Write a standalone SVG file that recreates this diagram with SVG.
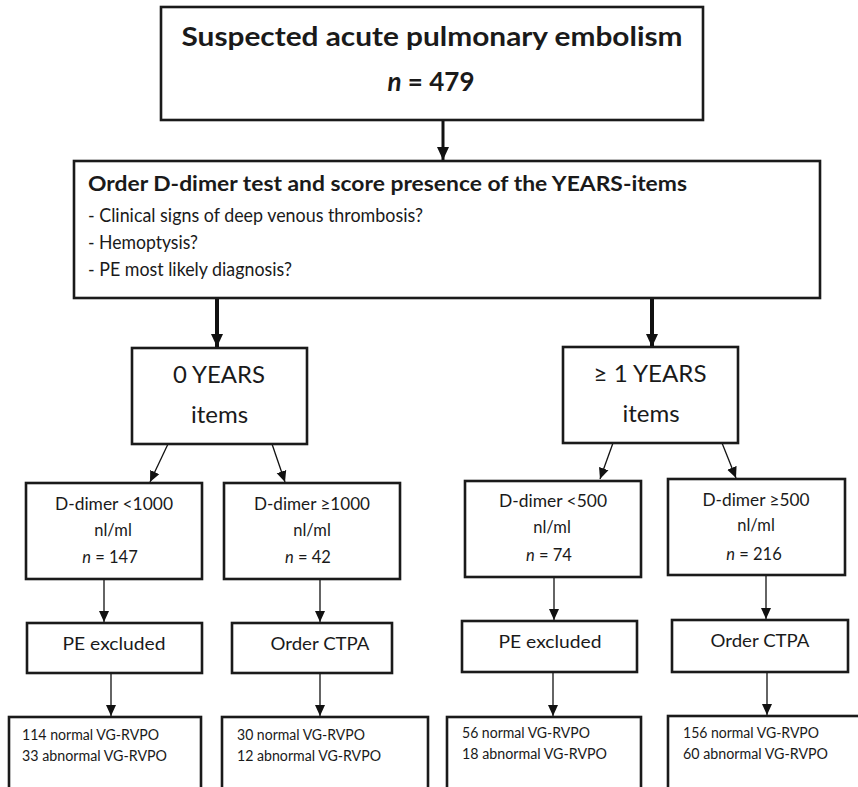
<svg xmlns="http://www.w3.org/2000/svg" width="858" height="787" viewBox="0 0 858 787">
<defs>
<marker id="ahBig" markerUnits="userSpaceOnUse" markerWidth="14" markerHeight="14" refX="13" refY="7" orient="auto"><path d="M0,1 L13,7 L0,13 z" fill="#111"/></marker>
<marker id="ahSmall" markerUnits="userSpaceOnUse" markerWidth="12" markerHeight="12" refX="11" refY="6" orient="auto"><path d="M0,1 L11,6 L0,11 z" fill="#111"/></marker>
<style>
.box{fill:#fff;stroke:#1a1a1a;stroke-width:2.6}
text{font-family:Lato,"Open Sans","Liberation Sans",sans-serif;fill:#1a1a1a}
.title{font-size:26px;font-weight:bold}
.h2{font-size:20px;font-weight:bold}
.bul{font-size:18.5px}
.yr{font-size:24px}
.dd{font-size:16.5px}
.act{font-size:18px}
.res{font-size:14.5px}
.thick{stroke:#111;stroke-width:4;fill:none}
.mid{stroke:#111;stroke-width:3;fill:none}
.thin{stroke:#111;stroke-width:1.3;fill:none}
</style>
</defs>
<rect width="858" height="787" fill="#fff"/>

<g id="connectors">
<line class="mid" x1="443" y1="121" x2="443" y2="160" marker-end="url(#ahBig)"/>
<line class="thick" x1="217" y1="298" x2="217" y2="347" marker-end="url(#ahBig)"/>
<line class="thick" x1="652" y1="298" x2="652" y2="347" marker-end="url(#ahBig)"/>
<line class="thin" x1="168" y1="444" x2="150" y2="482" marker-end="url(#ahSmall)"/>
<line class="thin" x1="272" y1="444" x2="285" y2="482" marker-end="url(#ahSmall)"/>
<line class="thin" x1="613" y1="443" x2="600" y2="479" marker-end="url(#ahSmall)"/>
<line class="thin" x1="722" y1="443" x2="736" y2="478" marker-end="url(#ahSmall)"/>
<line class="thin" x1="104" y1="579" x2="104" y2="622" marker-end="url(#ahSmall)"/>
<line class="thin" x1="320" y1="579" x2="320" y2="622" marker-end="url(#ahSmall)"/>
<line class="thin" x1="554" y1="577" x2="554" y2="620" marker-end="url(#ahSmall)"/>
<line class="thin" x1="766" y1="575" x2="766" y2="619" marker-end="url(#ahSmall)"/>
<line class="thin" x1="111" y1="673" x2="111" y2="716" marker-end="url(#ahSmall)"/>
<line class="thin" x1="320" y1="673" x2="320" y2="716" marker-end="url(#ahSmall)"/>
<line class="thin" x1="553" y1="672" x2="553" y2="716" marker-end="url(#ahSmall)"/>
<line class="thin" x1="767" y1="672" x2="767" y2="715" marker-end="url(#ahSmall)"/>
</g>

<g id="suspected">
<rect class="box" x="161" y="7" width="542" height="113"/>
<text class="title" x="432" y="46" text-anchor="middle" textLength="501" lengthAdjust="spacingAndGlyphs">Suspected acute pulmonary embolism</text>
<text class="title" x="431" y="91" text-anchor="middle"><tspan font-style="italic">n</tspan> = 479</text>
</g>

<g id="order-ddimer">
<rect class="box" x="74" y="161" width="746" height="137"/>
<text class="h2" x="88" y="191" textLength="599" lengthAdjust="spacingAndGlyphs">Order D-dimer test and score presence of the YEARS-items</text>
<text class="bul" x="88" y="222" textLength="335" lengthAdjust="spacingAndGlyphs">- Clinical signs of deep venous thrombosis?</text>
<text class="bul" x="88" y="249" textLength="110" lengthAdjust="spacingAndGlyphs">- Hemoptysis?</text>
<text class="bul" x="88" y="276" textLength="204" lengthAdjust="spacingAndGlyphs">- PE most likely diagnosis?</text>
</g>

<g id="years0">
<rect class="box" x="132" y="348" width="175" height="96"/>
<text class="yr" x="219" y="383" text-anchor="middle" textLength="92" lengthAdjust="spacingAndGlyphs">0 YEARS</text>
<text class="yr" x="219.5" y="423" text-anchor="middle">items</text>
</g>

<g id="years1">
<rect class="box" x="563" y="347" width="175" height="96"/>
<text class="yr" x="650" y="382" text-anchor="middle" textLength="113" lengthAdjust="spacingAndGlyphs">≥ 1 YEARS</text>
<text class="yr" x="651" y="422" text-anchor="middle">items</text>
</g>

<g id="dd-lt1000">
<rect class="box" x="26" y="483" width="176" height="96"/>
<text class="dd" x="114" y="510" text-anchor="middle" textLength="118" lengthAdjust="spacingAndGlyphs">D-dimer &lt;1000</text>
<text class="dd" x="113" y="536" text-anchor="middle">nl/ml</text>
<text class="dd" x="110" y="563" text-anchor="middle"><tspan font-style="italic">n</tspan> = 147</text>
</g>

<g id="dd-ge1000">
<rect class="box" x="224" y="483" width="176" height="96"/>
<text class="dd" x="312" y="510" text-anchor="middle" textLength="116" lengthAdjust="spacingAndGlyphs">D-dimer ≥1000</text>
<text class="dd" x="312" y="536" text-anchor="middle">nl/ml</text>
<text class="dd" x="308" y="563" text-anchor="middle"><tspan font-style="italic">n</tspan> = 42</text>
</g>

<g id="dd-lt500">
<rect class="box" x="465" y="481" width="176" height="96"/>
<text class="dd" x="553" y="507" text-anchor="middle" textLength="108" lengthAdjust="spacingAndGlyphs">D-dimer &lt;500</text>
<text class="dd" x="552" y="533" text-anchor="middle">nl/ml</text>
<text class="dd" x="549" y="561" text-anchor="middle"><tspan font-style="italic">n</tspan> = 74</text>
</g>

<g id="dd-ge500">
<rect class="box" x="668" y="479" width="177" height="96"/>
<text class="dd" x="756" y="506" text-anchor="middle" textLength="107" lengthAdjust="spacingAndGlyphs">D-dimer ≥500</text>
<text class="dd" x="756" y="531" text-anchor="middle">nl/ml</text>
<text class="dd" x="754" y="560" text-anchor="middle"><tspan font-style="italic">n</tspan> = 216</text>
</g>

<g id="pe-excluded-1">
<rect class="box" x="27" y="623" width="175" height="50"/>
<text class="act" x="114" y="650" text-anchor="middle" textLength="103" lengthAdjust="spacingAndGlyphs">PE excluded</text>
</g>

<g id="ctpa-1">
<rect class="box" x="232" y="623" width="160" height="50"/>
<text class="act" x="320" y="650" text-anchor="middle" textLength="99" lengthAdjust="spacingAndGlyphs">Order CTPA</text>
</g>

<g id="pe-excluded-2">
<rect class="box" x="462" y="621" width="175" height="51"/>
<text class="act" x="550" y="648" text-anchor="middle" textLength="103" lengthAdjust="spacingAndGlyphs">PE excluded</text>
</g>

<g id="ctpa-2">
<rect class="box" x="672" y="620" width="176" height="52"/>
<text class="act" x="760" y="647" text-anchor="middle" textLength="99" lengthAdjust="spacingAndGlyphs">Order CTPA</text>
</g>

<g id="result-1">
<rect class="box" x="9" y="717" width="192" height="90"/>
<text class="res" x="22" y="740" textLength="137" lengthAdjust="spacingAndGlyphs">114 normal VG-RVPO</text>
<text class="res" x="22" y="761" textLength="145" lengthAdjust="spacingAndGlyphs">33 abnormal VG-RVPO</text>
</g>

<g id="result-2">
<rect class="box" x="222" y="717" width="206" height="90"/>
<text class="res" x="237" y="740" textLength="128" lengthAdjust="spacingAndGlyphs">30 normal VG-RVPO</text>
<text class="res" x="237" y="761" textLength="144" lengthAdjust="spacingAndGlyphs">12 abnormal VG-RVPO</text>
</g>

<g id="result-3">
<rect class="box" x="447" y="717" width="194" height="90"/>
<text class="res" x="462" y="738" textLength="128" lengthAdjust="spacingAndGlyphs">56 normal VG-RVPO</text>
<text class="res" x="462" y="759" textLength="145" lengthAdjust="spacingAndGlyphs">18 abnormal VG-RVPO</text>
</g>

<g id="result-4">
<rect class="box" x="668" y="716" width="210" height="90"/>
<text class="res" x="683" y="738" textLength="136" lengthAdjust="spacingAndGlyphs">156 normal VG-RVPO</text>
<text class="res" x="683" y="759" textLength="145" lengthAdjust="spacingAndGlyphs">60 abnormal VG-RVPO</text>
</g>
</svg>
